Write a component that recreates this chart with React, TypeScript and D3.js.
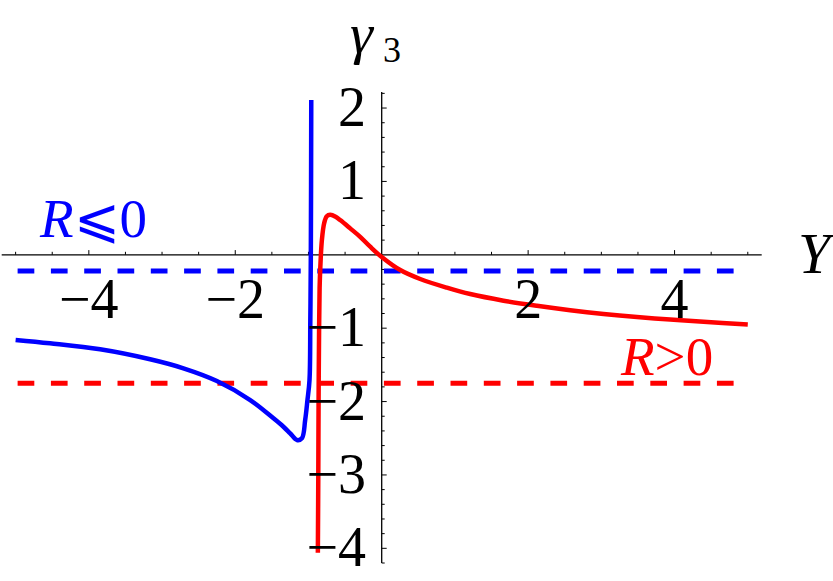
import React from "react";
import * as d3 from "d3";

// Blue curve (R ≤ 0): [Y, γ3]
const blueX = [-5.0, -4.53, -3.846, -3.163, -2.708, -2.251, -1.796, -1.478, -1.342, -1.25, -1.158, -1.09, -1.045, -1.014, -0.986, -0.975, -0.968, -0.962];
const blueY = [-1.16, -1.206, -1.288, -1.424, -1.547, -1.72, -1.979, -2.228, -2.343, -2.433, -2.524, -2.5, -2.25, -1.98, -1.707, -0.9, 0.0, 2.11];

// Red curve (R > 0)
const redX = [-0.872, -0.866, -0.862, -0.855, -0.848, -0.838, -0.817, -0.786, -0.75, -0.704, -0.63, -0.567, -0.43, -0.294, -0.157, 0.0, 0.253, 0.526, 0.89, 1.209, 1.664, 2.12, 2.575, 3.03, 3.486, 3.94, 4.396, 5.0];
const redY = [-4.06, -3.0, -2.0, -1.0, -0.45, -0.16, 0.2, 0.43, 0.525, 0.545, 0.52, 0.473, 0.36, 0.245, 0.11, -0.03, -0.208, -0.33, -0.448, -0.535, -0.625, -0.695, -0.755, -0.806, -0.848, -0.882, -0.912, -0.95];

// Dashed asymptote levels
const blueLevel = -0.22;
const redLevel = -1.75;
const levelRange = [-5, 5];

const xTickLabels = [-4, -2, 2, 4];
const yTickLabels = [2, 1, -1, -2, -3, -4];

const W = 833;
const H = 581;
const BLUE = "#0000ff";
const RED = "#ff0000";
const SERIF = '"Liberation Serif", Tinos, "Times New Roman", Times, "DejaVu Serif", "Noto Serif", serif';

const fmt = (v: number) => (v < 0 ? "\u2212" + Math.abs(v) : String(v));

export default function App() {
  const x = d3.scaleLinear().domain([-5.19, 5.19]).range([1.7, 761.7]);
  const y = d3.scaleLinear().domain([-4.2, 2.22]).range([563, 91.9]);

  const line = d3
    .line<[number, number]>()
    .x((d) => x(d[0]))
    .y((d) => y(d[1]))
    .curve(d3.curveCatmullRom.alpha(0.5));

  const bluePts = blueX.map((v, i) => [v, blueY[i]] as [number, number]);
  const redPts = redX.map((v, i) => [v, redY[i]] as [number, number]);

  const x0 = x(0);
  const y0 = y(0);

  const xTicks = d3.range(-10, 11).map((k) => k * 0.5).filter((v) => v !== 0);
  const yTicks = d3.range(-21, 12).map((k) => Math.round(k * 2) / 10).filter((v) => v !== 0);

  const serif = { fontFamily: SERIF };

  return (
    <svg
      width={W}
      height={H}
      viewBox={`0 0 ${W} ${H}`}
      style={{ position: "absolute", left: 0, top: 0, background: "#fff" }}
    >
      <rect x={0} y={0} width={W} height={H} fill="#fff" />
      {/* axes */}
      <line x1={x(-5.19)} x2={x(5.19)} y1={y0} y2={y0} stroke="#000" strokeWidth={1.3} />
      <line x1={x0} x2={x0} y1={y(2.22)} y2={y(-4.2)} stroke="#000" strokeWidth={1.3} />
      {xTicks.map((v) => {
        const major = Math.abs(v % 2) < 1e-9;
        return (
          <line key={"xt" + v} x1={x(v)} x2={x(v)} y1={y0} y2={y0 - (major ? 4.7 : 3)} stroke="#000" strokeWidth={1} />
        );
      })}
      {yTicks.map((v) => {
        const major = Math.abs(v - Math.round(v)) < 1e-9;
        return (
          <line key={"yt" + v} x1={x0} x2={x0 + (major ? 5 : 3)} y1={y(v)} y2={y(v)} stroke="#000" strokeWidth={1} />
        );
      })}

      {/* dashed levels */}
      <line
        x1={x(levelRange[0])}
        x2={x(levelRange[1])}
        y1={y(blueLevel)}
        y2={y(blueLevel)}
        stroke={BLUE}
        strokeWidth={5}
        strokeDasharray="16.7,16.6"
        strokeDashoffset={-2}
      />
      <line
        x1={x(levelRange[0])}
        x2={x(levelRange[1])}
        y1={y(redLevel)}
        y2={y(redLevel)}
        stroke={RED}
        strokeWidth={5}
        strokeDasharray="16.7,16.6"
        strokeDashoffset={-2}
      />

      {/* curves */}
      <path d={line(bluePts) || ""} fill="none" stroke={BLUE} strokeWidth={4.5} strokeLinejoin="round" />
      <path d={line(redPts) || ""} fill="none" stroke={RED} strokeWidth={4.5} strokeLinejoin="round" />

      {/* tick labels */}
      <g style={serif} fontSize={56} fill="#000">
        {xTickLabels.map((v) => (
          <text key={"xl" + v} x={x(v)} y={318} textAnchor="middle">
            {fmt(v)}
          </text>
        ))}
        {yTickLabels.map((v) => (
          <text key={"yl" + v} x={366} y={y(v) + 18} textAnchor="end">
            {fmt(v)}
          </text>
        ))}
      </g>

      {/* axis labels */}
      <text x={798} y={273} style={serif} fontSize={58} fontStyle="italic" fill="#000">
        Y
      </text>
      <text x={350} y={53} style={serif} fontSize={58} fontStyle="italic" fill="#000">
        γ
      </text>
      <text x={383} y={62} style={serif} fontSize={36} fill="#000">
        3
      </text>

      {/* region labels */}
      <text x={40} y={237} style={serif} fontSize={55} fill={BLUE}>
        <tspan fontStyle="italic">R</tspan>
        <tspan>⩽0</tspan>
      </text>
      <text x={621} y={375} style={serif} fontSize={55} fill={RED}>
        <tspan fontStyle="italic">R</tspan>
        <tspan>&gt;0</tspan>
      </text>
    </svg>
  );
}
